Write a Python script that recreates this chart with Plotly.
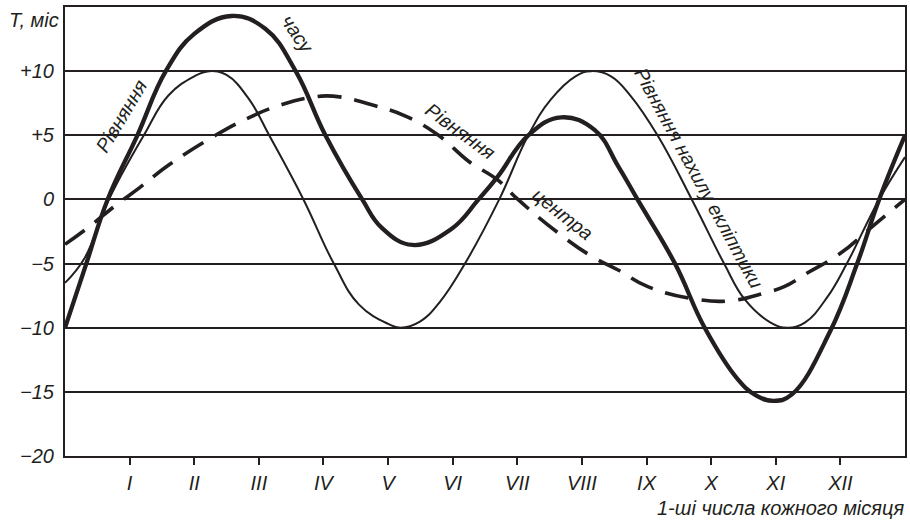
import plotly.graph_objects as go

# ---- data ----
month_ticks = [1, 2, 3, 4, 5, 6, 7, 8, 9, 10, 11, 12]
month_labels = ["I", "II", "III", "IV", "V", "VI", "VII", "VIII", "IX", "X", "XI", "XII"]
y_ticks = [-20, -15, -10, -5, 0, 5, 10]
y_labels = ["\u221220", "\u221215", "\u221210", "\u22125", "0", "+5", "+10"]

# Equation of time (thick)
eot_x = [0, 0.33, 0.66, 1.12, 1.56, 2.0, 2.58, 3.1, 3.57, 4.03, 4.6, 4.9, 5.38, 5.98,
         6.4, 6.7, 7.17, 7.68, 8.2, 8.56, 8.86, 9.44, 9.9, 10.41, 10.7, 10.97, 11.25,
         11.84, 12.26, 12.6, 13.0]
eot_y = [-10, -5, 0, 5, 10, 12.9, 14.3, 13.3, 10, 5, 0, -2.2, -3.55, -2.3,
         0, 1.8, 5, 6.4, 5.4, 2.6, 0, -5, -10, -14, -15.3, -15.7, -15.2,
         -10.3, -5, 0, 5]

# Equation due to obliquity of ecliptic (thin)
obl_x = [0, 0.3, 0.68, 1.22, 1.6, 2.0, 2.23, 2.5, 2.85, 3.16, 3.69, 4.16, 4.55, 5.0,
         5.19, 5.5, 5.8, 6.19, 6.72, 7.17, 7.52, 7.9, 8.14, 8.45, 8.75, 9.17, 9.7,
         10.2, 10.52, 10.92, 11.18, 11.45, 11.8, 12.1, 12.6, 13.0]
obl_y = [-6.5, -4.6, 0, 5, 8.1, 9.6, 10, 9.7, 7.8, 5, 0, -5, -8.2, -9.7,
         -10, -9.5, -8.0, -5, 0, 5, 7.8, 9.6, 10, 9.6, 8.1, 5, 0,
         -5, -7.8, -9.6, -10, -9.6, -7.6, -5, 0, 3.3]

# Equation of centre (dashed)
ctr_x = [0, 0.33, 0.8, 1.15, 1.61, 2.33, 2.9, 3.36, 3.75, 4.15, 4.8, 5.27, 5.78, 6.24,
         6.7, 7.01, 7.63, 8.14, 8.56, 9.02, 9.79, 10.3, 10.82, 11.13, 11.5, 12.0,
         12.52, 13.0]
ctr_y = [-3.5, -2.3, -0.4, 0.9, 2.7, 5, 6.5, 7.4, 7.9, 8.05, 7.3, 6.5, 5, 3,
         1.5, 0, -2.6, -4.4, -5.5, -6.8, -7.8, -7.9, -7.3, -6.8, -5.7, -4.2,
         -2.0, 0]

INK = "#231f20"
FONT = "Liberation Sans, Arial, sans-serif"
SMOOTH = 1.2

fig = go.Figure()
fig.add_trace(go.Scatter(x=ctr_x, y=ctr_y, mode="lines",
                         line=dict(color=INK, width=3.6, dash="24px,13px",
                                   shape="spline", smoothing=SMOOTH),
                         hoverinfo="skip", showlegend=False))
fig.add_trace(go.Scatter(x=obl_x, y=obl_y, mode="lines",
                         line=dict(color=INK, width=2, shape="spline", smoothing=SMOOTH),
                         hoverinfo="skip", showlegend=False))
fig.add_trace(go.Scatter(x=eot_x, y=eot_y, mode="lines",
                         line=dict(color=INK, width=4.3, shape="spline", smoothing=SMOOTH),
                         hoverinfo="skip", showlegend=False))

ann_font = dict(family=FONT, size=19.5, color=INK, style="italic")
annotations = [
    dict(x=0.87, y=6.5, text="Рівняння", textangle=-59),
    dict(x=3.6, y=12.9, text="часу", textangle=56),
    dict(x=6.12, y=5.3, text="Рівняння", textangle=36),
    dict(x=7.71, y=-1.1, text="центра", textangle=38),
    dict(x=9.81, y=1.65, text="Рівняння нахилу екліптики", textangle=61.5),
]
for a in annotations:
    a.update(xref="x", yref="y", showarrow=False, font=ann_font,
             xanchor="center", yanchor="middle")

annotations.append(dict(xref="paper", yref="paper", x=-0.0695, y=0.971,
                        xanchor="left", yanchor="middle", showarrow=False,
                        text="T, міс",
                        font=dict(family=FONT, size=20, color=INK, style="italic")))
annotations.append(dict(xref="paper", yref="paper", x=1.0006, y=-0.116,
                        xanchor="right", yanchor="middle", showarrow=False,
                        text="1-ші числа кожного місяця",
                        font=dict(family=FONT, size=20, color=INK, style="italic")))

fig.update_layout(
    width=910, height=521,
    margin=dict(l=65, r=3, t=7, b=65, pad=0),
    paper_bgcolor="white", plot_bgcolor="white",
    annotations=annotations,
    xaxis=dict(range=[0, 13], tickvals=month_ticks, ticktext=month_labels,
               ticks="outside", ticklen=7, tickwidth=1.5, tickcolor=INK,
               showgrid=False, zeroline=False,
               showline=True, linecolor=INK, linewidth=2, mirror=True,
               tickfont=dict(family=FONT, size=20, color=INK, style="italic"),
               ticklabelstandoff=1, fixedrange=True),
    yaxis=dict(range=[-20, 15], tickvals=y_ticks, ticktext=y_labels,
               ticks="", showgrid=True, gridcolor=INK, gridwidth=2,
               zeroline=False,
               showline=True, linecolor=INK, linewidth=2, mirror=True,
               tickfont=dict(family=FONT, size=20, color=INK, style="italic"),
               ticklabelstandoff=5, fixedrange=True),
)

fig.write_html("out.html", config={"displayModeBar": False},
               post_script="document.body.style.margin='0';document.body.style.overflow='hidden';")
